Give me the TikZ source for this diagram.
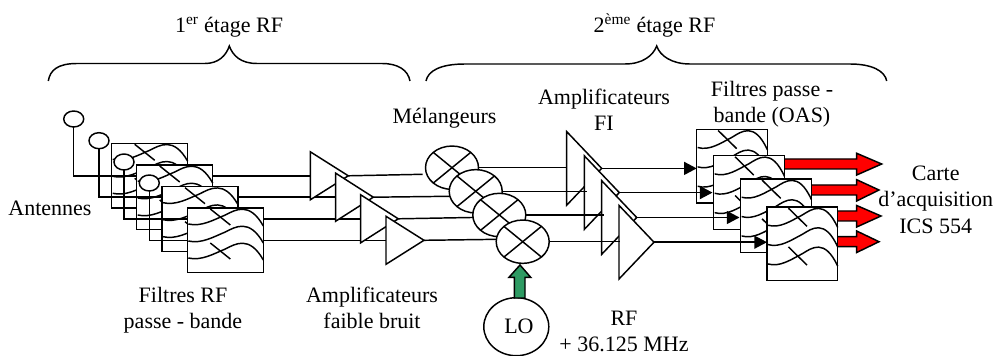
\documentclass[tikz,border=0pt]{standalone}
\usepackage{fontspec}
\setmainfont{Liberation Serif}
\usetikzlibrary{calc,shapes.geometric,arrows.meta}
\definecolor{loarrow}{HTML}{2E9B63}
\tikzset{
  wire/.style={draw=black,line width=1.1pt},
  brace/.style={draw=black,line width=1.1pt},
  feed/.style={wire,-{Triangle[length=9.5pt,width=9.75pt]}},
  boxrf/.style={draw=black,fill=white,line width=1.1pt,rectangle,inner sep=0pt,outer sep=0pt,anchor=north west,minimum width=57pt,minimum height=48.5pt},
  boxoas/.style={draw=black,fill=white,line width=1.1pt,rectangle,inner sep=0pt,outer sep=0pt,anchor=north west,minimum width=53pt,minimum height=55.3pt},
  antenna/.style={draw=black,fill=white,line width=1.1pt,ellipse,inner sep=0pt,outer sep=0pt,minimum width=15pt,minimum height=12pt},
  mixer/.style={draw=black,fill=white,line width=1.1pt,ellipse,inner sep=0pt,outer sep=0pt,minimum width=39.75pt,minimum height=32.5pt},
  osc/.style={draw=black,fill=white,line width=1.1pt,ellipse,inner sep=0pt,outer sep=0pt,minimum width=48.75pt,minimum height=43.5pt},
  ampbody/.style={draw=black,fill=white,line width=1.1pt,line join=miter},
  redarrow/.style={draw=black,fill=red,line width=1.1pt},
  greenarrow/.style={draw=black,fill=loarrow,line width=1.1pt},
  label/.style={inner sep=0pt,outer sep=0pt,anchor=base,align=center,font=\fontsize{16.5}{19.75}\selectfont},
}
\newcommand{\wavebox}[6]{%
  \node[#6] (#1) at (#2,#3) {};
  \begin{scope}[shift={(#2,#3)},xscale=#4/76,yscale=#5/64.7,line width=1.1pt]
    \foreach \d in {0,17,34} {
      \draw (1,16+\d) .. controls (14,19+\d) and (26,12+\d) .. (38,7+\d) .. controls (48,2+\d) and (62,-7+\d) .. (76,18+\d);
    }
    \draw (23,1) -- (43,17);
    \draw (23,35) -- (43,51);
  \end{scope}
}
\newcommand{\ampshape}[2]{%
  \draw[ampbody] ($(#1-in)+(0,-#2)$) -- (#1-out) -- ($(#1-in)+(0,#2)$) -- cycle;
}
\newcommand{\crossed}[1]{%
  \draw[wire] (#1.north west) -- (#1.south east);
  \draw[wire] (#1.north east) -- (#1.south west);
}
\begin{document}
\begin{tikzpicture}[x=0.75pt,y=-0.75pt]
\useasboundingbox (0,0) rectangle (997,356);
\fill[white] (0,0) rectangle (997,356);
% named connection points
\coordinate (a1-in) at (310.3,175.8); \coordinate (a1-out) at (348.3,175.8);
\coordinate (a2-in) at (335.7,197.2); \coordinate (a2-out) at (373.3,197.2);
\coordinate (a3-in) at (360.7,218.8); \coordinate (a3-out) at (398.3,218.8);
\coordinate (a4-in) at (386,240.3);   \coordinate (a4-out) at (424,240.3);
\coordinate (t1-in) at (566.7,168.4); \coordinate (t1-out) at (601.7,168.4);
\coordinate (t2-in) at (584.3,192.6); \coordinate (t2-out) at (619.3,192.6);
\coordinate (t3-in) at (601.7,217.5); \coordinate (t3-out) at (636.7,217.5);
\coordinate (t4-in) at (619,242.2);   \coordinate (t4-out) at (654,242.2);
\coordinate (f4w) at (187.3,208);
\coordinate (m1w) at (422.7,174.3);
\coordinate (m2w) at (475,196);
\coordinate (m3w) at (499,217);
\coordinate (m4w) at (522,239);
% braces
\draw[brace] (48.3,81) .. controls (50,70) and (58,63.5) .. (77,63.5) -- (205,63.5) .. controls (218,63.5) and (226,56) .. (229.3,46) .. controls (233,56) and (241,63.5) .. (257,63.5) -- (382,63.5) .. controls (398,63.5) and (408,70) .. (410,81);
\draw[brace] (426,81) .. controls (428,71) and (440,64) .. (465,64) -- (625,64) .. controls (642,64) and (653,56) .. (656.7,46) .. controls (660,56) and (672,64) .. (690,64) -- (850,64) .. controls (872,64) and (885,71) .. (886.7,81);
% RF filters and antennas
\wavebox{f1}{111.7}{143.3}{76}{64.7}{boxrf}
\wavebox{f2}{136.7}{165}{76}{64.7}{boxrf}
\wavebox{f3}{162}{186.7}{76}{64.7}{boxrf}
\node[antenna] (c1) at (73.7,119) {};
\node[antenna] (c2) at (99,140.7) {};
\node[antenna] (c3) at (124,162) {};
\node[antenna] (c4) at (149.3,183) {};
\draw[wire] (c1.south) |- (a1-in -| f2.west);
\draw[wire] (c2.south) |- (a2-in -| f3.west);
\draw[wire] (c3.south) |- (a3-in -| f4w);
\draw[wire] (c4.south) |- (a4-in -| f4w);
\wavebox{f4}{187.3}{208}{76}{64.7}{boxrf}
% low noise amplifiers
\draw[wire] (a1-in -| f2.east) -- (a1-in);
\draw[wire] (a2-in -| f3.east) -- (a2-in);
\draw[wire] (a3-in -| f4.east) -- (a3-in);
\draw[wire] (a4-in -| f4.east) -- (a4-in);
\draw[wire] (a1-out) -- (m1w);
\draw[wire] (a2-out) -- (m2w);
\draw[wire] (a3-out) -- (m3w);
\draw[wire] (a4-out) -- (m4w);
\ampshape{a1}{24}
\ampshape{a2}{24}
\ampshape{a3}{24}
\ampshape{a4}{24}
% mixers
\node[mixer] (m1) at (452,167.7) {}; \crossed{m1}
\node[mixer] (m2) at (475.7,191.3) {}; \crossed{m2}
\node[mixer] (m3) at (499.3,215) {}; \crossed{m3}
\node[mixer] (m4) at (522.7,241.7) {}; \crossed{m4}
% LO
\node[osc,font=\fontsize{16.5}{19.75}\selectfont] (lo) at (516.3,326.7) {\hspace{4pt}\raisebox{-1.5pt}{LO}};
\filldraw[greenarrow] (514.3,298) -- (514.3,277.3) -- (509,277.3) -- (520,265) -- (530.7,277.3) -- (525,277.3) -- (525,298) -- cycle;
% IF amplifiers
\draw[wire] (m1.east) -- (m1.east -| t1-in);
\ampshape{t1}{36.8}
\ampshape{t2}{36.8}
\draw[wire] (m2.east) -- ($(m2.east -| t2-in)+(2.3,0)$);
\ampshape{t3}{36.8}
\draw[wire] (m3.east) -- ($(m3.east -| t3-in)+(2,0)$);
\ampshape{t4}{36.8}
\draw[wire] (m4.east) -- ($(m4.east -| t4-in)+(1,0)$);
% OAS filters
\draw[feed] (t1-out) -- (t1-out -| 696.7,0);
\wavebox{o1}{696.7}{129.3}{70.7}{73.7}{boxoas}
\filldraw[redarrow] (778,159) -- (856.7,159) -- (856.7,153.3) -- (881.7,164) -- (856.7,175) -- (856.7,169) -- (778,169) -- cycle;
\draw[feed] (t2-out) -- (t2-out -| 712.5,0);
\wavebox{o2}{713.7}{155.7}{70.7}{73.7}{boxoas}
\filldraw[redarrow] (805,185) -- (856.7,185) -- (856.7,179.7) -- (879,190) -- (856.7,201) -- (856.7,195) -- (805,195) -- cycle;
\draw[feed] (t3-out) -- (t3-out -| 739.5,0);
\wavebox{o3}{740.7}{179}{70.7}{73.7}{boxoas}
\filldraw[redarrow] (830,211) -- (856.7,211) -- (856.7,205.5) -- (881,216) -- (856.7,227) -- (856.7,221) -- (830,221) -- cycle;
\filldraw[redarrow] (830,236.7) -- (856.7,236.7) -- (856.7,231) -- (879,241.7) -- (856.7,252.5) -- (856.7,246.7) -- (830,246.7) -- cycle;
\draw[feed] (t4-out) -- (t4-out -| 767,0);
\wavebox{o4}{767}{207}{70.7}{73.7}{boxoas}
% texts
\node[label] (t-etage1) at (229,33) {1\textsuperscript{er} étage RF};
\node[label] (t-etage2) at (654.5,33) {2\textsuperscript{ème} étage RF};
\node[label] (t-mel) at (444.5,124) {Mélangeurs};
\node[label] (t-ant) at (50,215.7) {Antennes};
\node[label] (t-amfi) at (604,130.7) {Amplificateurs\\FI};
\node[label] (t-oas) at (772,122.7) {Filtres passe -\\bande (OAS)};
\node[label] (t-frf) at (183,329) {Filtres RF\\passe - bande};
\node[label] (t-lna) at (372,329) {Amplificateurs\\faible bruit};
\node[label] (t-rf) at (624,351.7) {RF\\+ 36.125 MHz};
\node[label] (t-carte) at (935.7,233.3) {Carte\\d’acquisition\\ICS 554};
\end{tikzpicture}
\end{document}
